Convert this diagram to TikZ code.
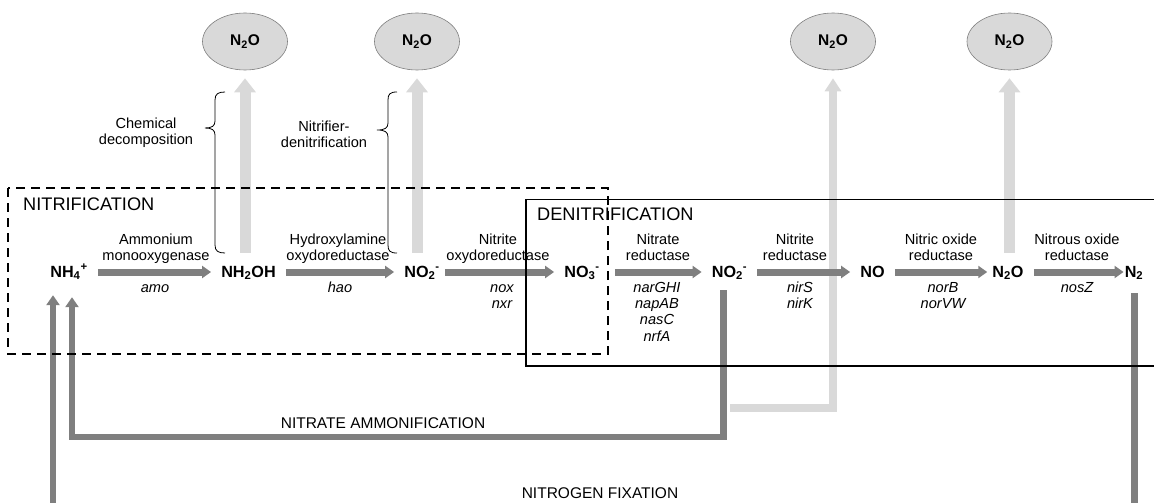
\documentclass[tikz,border=0pt]{standalone}
\usepackage{fontspec}
\setmainfont{Liberation Sans}
\usetikzlibrary{arrows.meta,shapes.geometric}
\definecolor{dgrey}{HTML}{7F7F7F}
\definecolor{lgrey}{HTML}{D9D9D9}
\begin{document}
\begin{tikzpicture}[x=1pt,y=-1pt,
  species/.style={font=\bfseries\fontsize{16.2}{19}\selectfont, text height=13pt, text depth=3pt, inner xsep=10pt, inner ysep=3pt, anchor=base},
  gas/.style={ellipse, draw=dgrey, line width=0.6pt, fill=lgrey, minimum width=85pt, minimum height=57pt, inner sep=0pt, font=\bfseries\fontsize{15.5}{18}\selectfont},
  flow/.style={draw=dgrey, line width=7pt, -{Triangle[width=12pt,length=9pt]}},
  leak/.style={draw=lgrey, line width=11pt, -{Triangle[width=21pt,length=14pt]}},
  leakthin/.style={draw=lgrey, line width=8pt, -{Triangle[width=16pt,length=13pt]}},
  ret/.style={draw=dgrey, line width=6.5pt, -{Triangle[width=13pt,length=10pt]}},
  enz/.style={font=\fontsize{14.6}{16}\selectfont, align=center, inner sep=0pt, anchor=south},
  gene/.style={font=\itshape\fontsize{14.6}{16.3}\selectfont, align=center, inner sep=0pt, anchor=north},
  side/.style={align=center, inner sep=0pt, anchor=north},
  title/.style={font=\fontsize{18.2}{21}\selectfont, inner sep=0pt, anchor=base west},
  path/.style={font=\fontsize{15.5}{18}\selectfont, inner sep=0pt, anchor=base},
  brace/.style={draw=black, line width=0.8pt}
]
\path[use as bounding box, clip] (0,0) rectangle (1154,503);

% species
\node[species] (nh4)   at (69,277)   {NH\textsubscript{4}\textsuperscript{+}};
\node[species] (nh2oh) at (248.5,277) {NH\textsubscript{2}OH};
\node[species] (no2a)  at (422,277)  {NO\textsubscript{2}\textsuperscript{-}};
\node[species] (no3)   at (582,277)  {NO\textsubscript{3}\textsuperscript{-}};
\node[species] (no2b)  at (729.5,277) {NO\textsubscript{2}\textsuperscript{-}};
\node[species] (no)    at (872.5,277) {NO};
\node[species] (n2o)   at (1008,277) {N\textsubscript{2}O};
\node[species] (n2)    at (1134,277) {N\textsubscript{2}};

% N2O gas
\node[gas] (e1) at (245,41.5)   {N\textsubscript{2}O};
\node[gas] (e2) at (417,41.5)   {N\textsubscript{2}O};
\node[gas] (e3) at (833,41.5)   {N\textsubscript{2}O};
\node[gas] (e4) at (1009.5,41.5) {N\textsubscript{2}O};

% leak arrows
\draw[leak, shorten <=8pt, shorten >=8pt] (e1.south |- nh2oh.north) -- (e1.south);
\draw[leak, shorten <=8pt, shorten >=8pt] (e2.south |- no2a.north) -- (e2.south);
\draw[leak, shorten <=8pt, shorten >=8pt] (e4.south |- n2o.north) -- (e4.south);
\coordinate (br) at (730,408);
\draw[leakthin, shorten >=8pt] (br) -| (e3.south);

% main flow
\draw[flow] (nh4) -- (nh2oh);
\draw[flow] (nh2oh) -- (no2a);
\draw[flow, shorten <=-5pt] (no2a) -- (no3);
\draw[flow, shorten <=5pt] (no3) -- (no2b);
\draw[flow] (no2b) -- (no);
\draw[flow, shorten >=-5pt] (no) -- (n2o);
\draw[flow, shorten >=-9pt] (n2o) -- (n2);

% return paths
\coordinate (a1) at ([xshift=-5.8pt]no2b.south);
\draw[ret, shorten <=7pt, shorten >=14pt] (a1) -- (a1 |- 0,437) -| ([xshift=3pt]nh4.south);
\coordinate (f1) at ([xshift=0.7pt]n2.south);
\draw[ret, shorten <=10pt, shorten >=12pt] (f1) -- (f1 |- 0,560) -| ([xshift=-16pt]nh4.south);

% enzyme labels
\node[enz] (l1) at (156,265.8)  {Ammonium\strut\\monooxygenase\strut};
\node[enz] (l2) at (338,265.8)  {Hydroxylamine\strut\\oxydoreductase\strut};
\node[enz] (l3) at (498,265.8)  {Nitrite\strut\\oxydoreductase\strut};
\node[enz] (l4) at (658,265.8)  {Nitrate\strut\\reductase\strut};
\node[enz] (l5) at (795,265.8)  {Nitrite\strut\\reductase\strut};
\node[enz] (l6) at (941,265.8)  {Nitric oxide\strut\\reductase\strut};
\node[enz] (l7) at (1077,265.8) {Nitrous oxide\strut\\reductase\strut};

% genes
\node[gene] (g1) at (155,280.6)  {amo\strut};
\node[gene] (g2) at (340,280.6)  {hao\strut};
\node[gene] (g3) at (502,280.6)  {nox\strut\\nxr\strut};
\node[gene] (g4) at (657,280.6)  {narGHI\strut\\napAB\strut\\nasC\strut\\nrfA\strut};
\node[gene] (g5) at (800,280.6)  {nirS\strut\\nirK\strut};
\node[gene] (g6) at (943,280.6)  {norB\strut\\norVW\strut};
\node[gene] (g7) at (1077,280.6) {nosZ\strut};

% braces
\draw[brace] (225,92) .. controls (218,92) and (215,94) .. (215,100) -- (215,121)
  .. controls (215,126) and (212,128) .. (205,128)
  .. controls (212,128) and (215,130) .. (215,135) -- (215,245)
  .. controls (215,251) and (218,253) .. (225,253);
\draw[brace] (397,92) .. controls (390,92) and (388,94) .. (388,100) -- (388,123)
  .. controls (388,128) and (385,130) .. (377,130)
  .. controls (385,130) and (388,132) .. (388,137) -- (388,245)
  .. controls (388,251) and (390,253) .. (397,253);
\node[side, font=\fontsize{14.6}{16.7}\selectfont] (s1) at (146,116.3) {Chemical\strut\\decomposition\strut};
\node[side, font=\fontsize{14.6}{16}\selectfont] (s2) at (324,119.8) {Nitrifier-\strut\\denitrification\strut};

% process boxes
\draw[black, line width=1.6pt, dash pattern=on 9pt off 6pt] (8,188) rectangle (608,354);
\draw[black, line width=1.3pt] (526,199.5) rectangle (1170,366);
\node[title] (t1) at (23,210)  {NITRIFICATION};
\node[title] (t2) at (537,220) {DENITRIFICATION};

\node[path] (p1) at (383,428) {NITRATE AMMONIFICATION};
\node[path] (p2) at (600,498) {NITROGEN FIXATION};
\end{tikzpicture}
\end{document}
